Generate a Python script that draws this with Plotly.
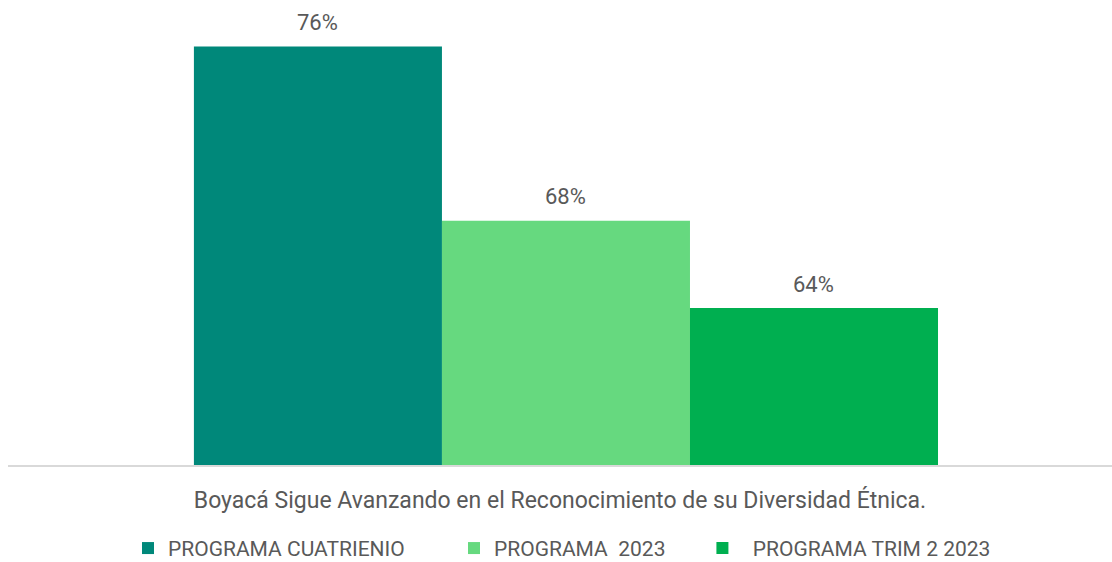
import plotly.graph_objects as go

category = ["Boyacá Sigue Avanzando en el Reconocimiento de su Diversidad Étnica."]
series_names = ["PROGRAMA CUATRIENIO", "PROGRAMA  2023", "  PROGRAMA TRIM 2 2023"]
series_values = [76, 68, 64]
colors = ["#00887A", "#66D97F", "#00AF50"]
legend_x = [0.1087, 0.404, 0.629]

FONT = "Roboto"
TXT = "#595959"
BARGAP = 0.326
n = len(series_values)
bw = (1 - BARGAP) / n

fig = go.Figure()
for i, (name, val, col) in enumerate(zip(series_names, series_values, colors)):
    fig.add_trace(go.Bar(
        x=category, y=[val], name=name, marker=dict(color=col, line=dict(width=0)),
        legend="legend" if i == 0 else f"legend{i+1}",
    ))
    fig.add_annotation(x=(i - (n - 1) / 2) * bw, y=val, xref="x", yref="y",
                       text=f"{val}%", showarrow=False, yanchor="middle", yshift=24,
                       font=dict(family=FONT, size=22, color=TXT))

leg_common = dict(orientation="h", xanchor="left", y=-0.1833, yanchor="middle",
                  font=dict(family=FONT, size=21, color=TXT), bgcolor="rgba(0,0,0,0)")
fig.update_layout(
    width=1112, height=562,
    margin=dict(l=8, r=0, t=10, b=96.5, autoexpand=False),
    paper_bgcolor="white", plot_bgcolor="white",
    barmode="group", bargap=BARGAP, bargroupgap=0,
    showlegend=True,
    legend=dict(x=legend_x[0], **leg_common),
    legend2=dict(x=legend_x[1], **leg_common),
    legend3=dict(x=legend_x[2], **leg_common),
    font=dict(family=FONT, color=TXT),
)
fig.update_xaxes(type="category", range=[-0.5054, 0.4946], showticklabels=False, showline=True,
                 linecolor="#D9D9D9", linewidth=1.5, ticks="", showgrid=False, automargin=False,
                 title=dict(text=category[0], font=dict(family=FONT, size=23, color=TXT), standoff=26))
fig.update_yaxes(range=[56.8, 77.67], visible=False, showgrid=False, automargin=False)
fig.write_html("out.html", config={"displayModeBar": False},
               post_script="document.body.style.margin='0';")
